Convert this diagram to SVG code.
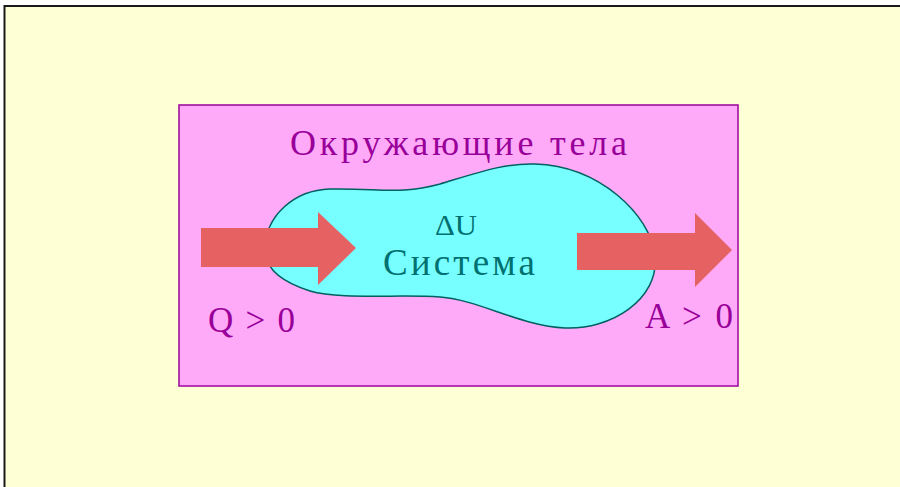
<svg xmlns="http://www.w3.org/2000/svg" width="900" height="487" viewBox="0 0 900 487">
<style>
.lbl{font-family:"Liberation Serif","DejaVu Serif","Times New Roman",serif;fill:#990099}
.sys{font-family:"Liberation Serif","DejaVu Serif","Times New Roman",serif;fill:#007070}
.arrow{fill:#E66262}
</style>
<rect x="0" y="0" width="900" height="487" fill="#ffffff"/>
<rect id="background" x="4.5" y="6" width="910" height="490" fill="#FFFFD5" stroke="#1a1a1a" stroke-width="2"/>
<g id="surroundings">
<rect x="179" y="105" width="559" height="281" fill="#FFAAF8" stroke="#A010A0" stroke-width="1.6"/>
<text class="lbl" x="290" y="155" font-size="36" textLength="337" lengthAdjust="spacing">Окружающие тела</text>
</g>
<g id="system">
<path d="M265,250 C265,215 295,190 330,189 C380,188 400,195 440,184 C480,172 505,163 535,164 C600,166 650,215 655,255 C660,300 610,330 565,328 C520,326 480,300 440,297 C400,294 340,300 310,291 C285,283 265,270 265,250 Z" fill="#77FFFF" stroke="#005F5F" stroke-width="1.5"/>
<text class="sys" x="435" y="235" font-size="30" textLength="42" lengthAdjust="spacingAndGlyphs">ΔU</text>
<text class="sys" x="383" y="275" font-size="37" textLength="152" lengthAdjust="spacing">Система</text>
</g>
<g id="connectors">
<polygon class="arrow" points="201,228 318,228 318,212 356,248 318,285 318,267 201,267"/>
<polygon class="arrow" points="577,233 695,233 695,213 732,250 695,287 695,270 577,270"/>
</g>
<g id="label-q">
<text class="lbl" x="208" y="332" font-size="35" textLength="87" lengthAdjust="spacing">Q &gt; 0</text>
</g>
<g id="label-a">
<text class="lbl" x="645" y="328" font-size="35" textLength="88" lengthAdjust="spacing">A &gt; 0</text>
</g>
</svg>
